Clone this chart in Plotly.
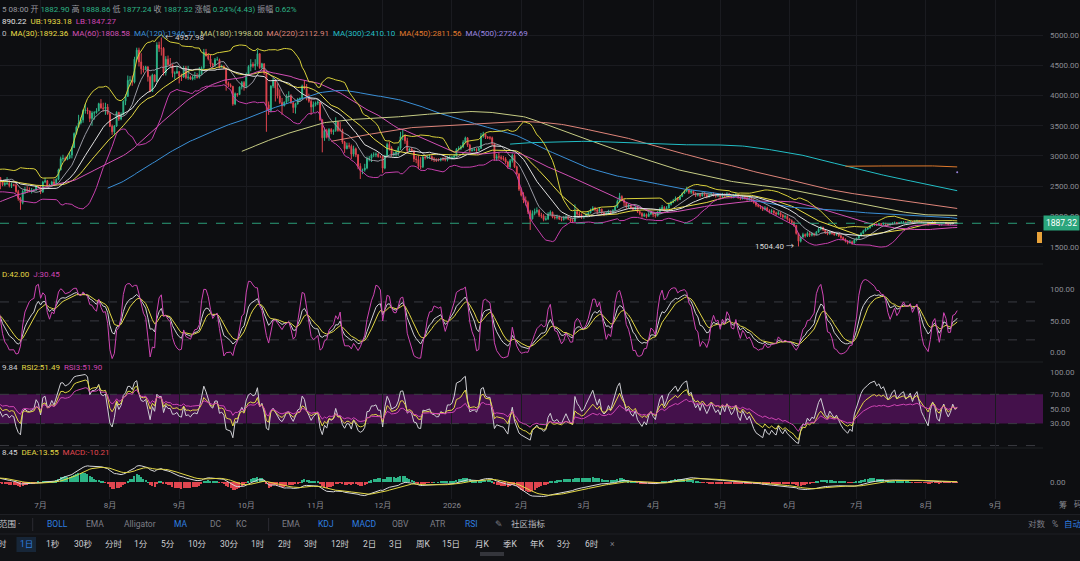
import numpy as np
import pandas as pd
import plotly.graph_objects as go

# ETH/USDT daily candles, 2025-04-03 .. 2026-08-15 (open = previous close)
first_open = 1795.0

close_2504 = [1817, 1816, 1806, 1580, 1553, 1472, 1668, 1522, 1566, 1644, 1596, 1623, 1588, 1577, 1583, 1588, 1613, 1586, 1577, 1756, 1796, 1769, 1786, 1819, 1793, 1800, 1798, 1793]
high_2504 = [1867, 1830, 1820, 1810, 1640, 1620, 1686, 1690, 1580, 1660, 1690, 1690, 1660, 1630, 1610, 1600, 1620, 1620, 1600, 1780, 1830, 1800, 1800, 1830, 1850, 1830, 1840, 1840]
low_2504 = [1770, 1760, 1770, 1560, 1385, 1450, 1410, 1500, 1510, 1550, 1560, 1590, 1580, 1540, 1560, 1575, 1580, 1575, 1540, 1570, 1750, 1740, 1750, 1780, 1780, 1760, 1780, 1760]

close_2505 = [1838, 1843, 1834, 1806, 1818, 1813, 1810, 2208, 2346, 2583, 2514, 2496, 2680, 2610, 2547, 2540, 2474, 2496, 2523, 2528, 2550, 2664, 2532, 2530, 2555, 2565, 2661, 2682, 2632, 2530, 2528]
high_2505 = [1870, 1870, 1850, 1850, 1840, 1830, 1830, 2215, 2380, 2590, 2620, 2610, 2730, 2720, 2620, 2630, 2560, 2510, 2580, 2590, 2600, 2720, 2740, 2580, 2570, 2620, 2720, 2710, 2790, 2660, 2550]
low_2505 = [1780, 1820, 1820, 1800, 1780, 1780, 1790, 1800, 2160, 2340, 2450, 2370, 2430, 2600, 2500, 2530, 2430, 2430, 2340, 2490, 2500, 2540, 2500, 2510, 2500, 2540, 2550, 2600, 2600, 2500, 2490]

close_2506 = [2540, 2607, 2594, 2608, 2420, 2480, 2525, 2510, 2680, 2815, 2770, 2645, 2580, 2525, 2545, 2547, 2510, 2525, 2515, 2410, 2295, 2228, 2415, 2445, 2420, 2415, 2425, 2435, 2505, 2485]
high_2506 = [2550, 2620, 2660, 2680, 2640, 2530, 2540, 2540, 2700, 2860, 2880, 2780, 2650, 2600, 2570, 2650, 2600, 2560, 2540, 2560, 2440, 2320, 2440, 2490, 2500, 2480, 2470, 2450, 2510, 2520]
low_2506 = [2470, 2500, 2580, 2590, 2390, 2400, 2470, 2480, 2500, 2650, 2730, 2620, 2450, 2500, 2500, 2520, 2480, 2470, 2500, 2390, 2260, 2110, 2200, 2370, 2390, 2400, 2380, 2410, 2420, 2470]

close_2507 = [2405, 2570, 2590, 2505, 2515, 2570, 2540, 2615, 2770, 2955, 2960, 2940, 2970, 3015, 3140, 3370, 3475, 3545, 3595, 3755, 3760, 3745, 3620, 3710, 3715, 3745, 3865, 3795, 3785, 3810, 3700]
high_2507 = [2520, 2590, 2640, 2600, 2540, 2590, 2620, 2630, 2790, 2990, 3020, 2990, 3000, 3060, 3160, 3390, 3500, 3680, 3640, 3770, 3860, 3800, 3750, 3740, 3740, 3790, 3880, 3940, 3880, 3880, 3860]
low_2507 = [2370, 2390, 2550, 2490, 2490, 2500, 2520, 2530, 2600, 2760, 2910, 2920, 2930, 2950, 2960, 3130, 3350, 3470, 3520, 3550, 3700, 3690, 3560, 3500, 3600, 3700, 3740, 3780, 3730, 3680, 3680]

close_2508 = [3490, 3400, 3495, 3720, 3610, 3680, 3905, 3985, 4250, 4255, 4220, 4600, 4750, 4555, 4440, 4425, 4475, 4310, 4070, 4340, 4230, 4835, 4780, 4780, 4375, 4600, 4510, 4510, 4365, 4370, 4395]
high_2508 = [3720, 3520, 3510, 3740, 3730, 3720, 3920, 4020, 4330, 4320, 4330, 4640, 4790, 4790, 4700, 4490, 4490, 4480, 4330, 4360, 4350, 4880, 4890, 4957.98, 4800, 4650, 4660, 4620, 4500, 4400, 4480]
low_2508 = [3480, 3350, 3360, 3480, 3580, 3590, 3680, 3840, 3980, 4160, 4160, 4200, 4580, 4480, 4350, 4380, 4420, 4230, 4060, 4060, 4220, 4220, 4720, 4660, 4330, 4330, 4490, 4470, 4300, 4270, 4360]

close_2509 = [4320, 4305, 4450, 4295, 4305, 4270, 4300, 4310, 4300, 4350, 4460, 4715, 4665, 4605, 4520, 4500, 4590, 4590, 4470, 4480, 4450, 4200, 4170, 4150, 3860, 4030, 4015, 4140, 4215, 4150]
high_2509 = [4400, 4360, 4490, 4490, 4490, 4330, 4330, 4390, 4370, 4470, 4480, 4770, 4770, 4690, 4680, 4540, 4620, 4640, 4610, 4510, 4500, 4460, 4230, 4200, 4160, 4050, 4040, 4150, 4240, 4240]
low_2509 = [4200, 4240, 4290, 4270, 4260, 4260, 4250, 4260, 4280, 4280, 4340, 4430, 4640, 4580, 4470, 4450, 4470, 4580, 4450, 4460, 4440, 4080, 4140, 4130, 3830, 3840, 3980, 4010, 4100, 4080]

close_2510 = [4350, 4480, 4515, 4490, 4515, 4690, 4460, 4525, 4370, 3845, 3750, 4155, 4245, 4125, 3990, 3885, 3830, 3890, 3980, 3985, 3880, 3800, 3860, 3935, 3950, 4155, 4120, 3980, 3905, 3810, 3850]
high_2510 = [4380, 4500, 4600, 4550, 4600, 4760, 4700, 4540, 4530, 4400, 3900, 4170, 4290, 4270, 4200, 4100, 3960, 3900, 4020, 4070, 4020, 3900, 3880, 3960, 3970, 4180, 4250, 4190, 4030, 3950, 3900]
low_2510 = [4120, 4330, 4400, 4460, 4420, 4480, 4440, 4440, 4340, 3400, 3680, 3720, 4120, 3900, 3950, 3860, 3680, 3820, 3860, 3900, 3860, 3710, 3700, 3850, 3900, 3930, 4100, 3920, 3880, 3680, 3720]

close_2511 = [3875, 3890, 3600, 3300, 3420, 3310, 3440, 3400, 3420, 3560, 3420, 3420, 3230, 3120, 3170, 3160, 3030, 3120, 3020, 2830, 2760, 2770, 2800, 2955, 2960, 3020, 3020, 3030, 2990, 2990]
high_2511 = [3900, 3920, 3900, 3600, 3470, 3450, 3460, 3460, 3440, 3640, 3580, 3560, 3450, 3250, 3220, 3220, 3190, 3170, 3140, 3030, 2880, 2790, 2870, 2990, 3000, 3040, 3060, 3060, 3050, 3010]
low_2511 = [3820, 3840, 3580, 3060, 3250, 3290, 3250, 3360, 3350, 3400, 3400, 3400, 3200, 3050, 3110, 3120, 2950, 2990, 2980, 2780, 2620, 2700, 2740, 2780, 2910, 2900, 2980, 2980, 2970, 2970]

close_2512 = [2800, 3000, 3190, 3135, 3025, 3040, 3060, 3130, 3320, 3330, 3250, 3090, 3115, 3080, 2950, 2940, 2830, 2820, 2980, 2975, 2985, 2990, 2950, 2945, 2930, 2930, 2950, 2945, 2940, 2970, 2970]
high_2512 = [3000, 3020, 3220, 3240, 3160, 3070, 3100, 3160, 3400, 3445, 3360, 3300, 3130, 3140, 3100, 3000, 3010, 2980, 3000, 3010, 3010, 3030, 3010, 2980, 2960, 2960, 2970, 2980, 2990, 3000, 3010]
low_2512 = [2720, 2780, 2990, 3090, 2990, 2990, 2990, 3000, 3100, 3260, 3200, 3050, 3070, 3070, 2900, 2880, 2780, 2780, 2800, 2940, 2950, 2950, 2920, 2900, 2900, 2910, 2910, 2920, 2910, 2910, 2950]

close_2601 = [2975, 3000, 3110, 3125, 3150, 3225, 3300, 3180, 3090, 3100, 3105, 3090, 3125, 3330, 3360, 3310, 3300, 3300, 3200, 2960, 2990, 2980, 2960, 2950, 2900, 2820, 2920, 3010, 2820, 2700, 2450]
high_2601 = [3000, 3030, 3130, 3160, 3180, 3260, 3320, 3310, 3200, 3130, 3130, 3130, 3150, 3380, 3400, 3370, 3330, 3330, 3320, 3220, 3030, 3050, 3010, 3000, 2980, 2920, 2950, 3040, 3030, 2840, 2720]
low_2601 = [2940, 2960, 2990, 3090, 3100, 3130, 3210, 3150, 3060, 3070, 3080, 3070, 3080, 3120, 3300, 3280, 3280, 3270, 3180, 2920, 2920, 2940, 2930, 2920, 2870, 2790, 2800, 2890, 2800, 2680, 2420]

close_2602 = [2350, 2270, 2230, 2080, 1960, 2050, 2080, 2100, 2020, 2010, 1950, 1960, 2040, 2070, 1990, 1980, 1990, 1960, 1950, 1970, 1990, 1960, 1930, 1920, 2080, 2040, 2020, 1990]
high_2602 = [2480, 2400, 2330, 2260, 2110, 2100, 2130, 2150, 2120, 2060, 2040, 2010, 2070, 2100, 2080, 2020, 2030, 2020, 1990, 2010, 2020, 2010, 1980, 1970, 2200, 2120, 2080, 2050]
low_2602 = [2330, 2220, 2180, 2040, 1777, 1950, 2020, 2050, 1990, 1970, 1920, 1930, 1940, 2020, 1970, 1950, 1950, 1940, 1920, 1930, 1950, 1940, 1900, 1890, 1910, 2010, 1990, 1960]

close_2603 = [2000, 2030, 2060, 2100, 2140, 2110, 2080, 2120, 2060, 2040, 2050, 2080, 2060, 2100, 2160, 2250, 2330, 2270, 2230, 2160, 2180, 2140, 2120, 2150, 2080, 2050, 2010, 2030, 2000, 2040, 2060]
high_2603 = [2020, 2060, 2090, 2130, 2170, 2160, 2130, 2150, 2130, 2080, 2080, 2110, 2100, 2120, 2180, 2280, 2390, 2350, 2290, 2240, 2210, 2200, 2160, 2180, 2160, 2090, 2070, 2060, 2050, 2070, 2090]
low_2603 = [1960, 1990, 2020, 2050, 2090, 2080, 2040, 2070, 2040, 2010, 2020, 2040, 2030, 2050, 2090, 2140, 2230, 2250, 2170, 2130, 2140, 2120, 2090, 2100, 2060, 2020, 1980, 1990, 1970, 1990, 2020]

close_2604 = [2030, 2010, 2060, 2120, 2150, 2100, 2140, 2200, 2230, 2260, 2300, 2280, 2330, 2380, 2420, 2450, 2400, 2420, 2380, 2350, 2370, 2340, 2380, 2360, 2330, 2350, 2380, 2360, 2340, 2350]
high_2604 = [2080, 2060, 2090, 2150, 2190, 2170, 2170, 2230, 2260, 2290, 2330, 2320, 2350, 2400, 2440, 2490, 2460, 2440, 2430, 2400, 2390, 2380, 2400, 2400, 2370, 2380, 2400, 2400, 2380, 2380]
low_2604 = [1990, 1980, 2000, 2040, 2100, 2080, 2090, 2130, 2180, 2220, 2250, 2250, 2270, 2320, 2370, 2400, 2370, 2370, 2350, 2320, 2330, 2310, 2330, 2330, 2300, 2310, 2340, 2330, 2310, 2320]

close_2605 = [2330, 2360, 2340, 2370, 2350, 2330, 2340, 2360, 2320, 2300, 2330, 2310, 2290, 2300, 2270, 2230, 2190, 2170, 2150, 2120, 2140, 2100, 2080, 2090, 2060, 2040, 2060, 2020, 1990, 2000, 1960]
high_2605 = [2380, 2390, 2380, 2400, 2390, 2360, 2370, 2390, 2370, 2330, 2350, 2350, 2320, 2330, 2310, 2290, 2240, 2210, 2190, 2170, 2170, 2160, 2120, 2120, 2110, 2080, 2090, 2080, 2040, 2030, 2020]
low_2605 = [2300, 2310, 2310, 2320, 2320, 2300, 2300, 2320, 2290, 2270, 2280, 2280, 2260, 2260, 2240, 2210, 2160, 2150, 2120, 2090, 2100, 2080, 2050, 2050, 2030, 2010, 2020, 1990, 1960, 1960, 1930]

close_2606 = [1930, 1900, 1850, 1720, 1590, 1660, 1700, 1680, 1720, 1690, 1710, 1700, 1740, 1790, 1820, 1780, 1730, 1710, 1740, 1720, 1700, 1710, 1680, 1650, 1620, 1590, 1570, 1580, 1560, 1610]
high_2606 = [1970, 1950, 1920, 1860, 1730, 1680, 1730, 1720, 1750, 1740, 1740, 1730, 1760, 1820, 1840, 1830, 1790, 1760, 1760, 1760, 1740, 1730, 1720, 1700, 1670, 1640, 1610, 1610, 1600, 1630]
low_2606 = [1890, 1870, 1830, 1700, 1504.40, 1570, 1640, 1650, 1660, 1660, 1670, 1670, 1690, 1730, 1770, 1760, 1710, 1690, 1700, 1700, 1680, 1680, 1660, 1630, 1600, 1570, 1540, 1550, 1530, 1550]

close_2607 = [1640, 1680, 1720, 1760, 1790, 1810, 1840, 1860, 1870, 1860, 1880, 1870, 1885, 1875, 1860, 1870, 1890, 1900, 1885, 1895, 1905, 1910, 1900, 1905, 1915, 1905, 1920, 1930, 1915, 1900, 1890]
high_2607 = [1650, 1700, 1740, 1780, 1810, 1830, 1860, 1880, 1890, 1885, 1895, 1890, 1900, 1895, 1880, 1885, 1905, 1915, 1905, 1910, 1920, 1925, 1915, 1920, 1930, 1925, 1935, 1945, 1935, 1920, 1905]
low_2607 = [1590, 1630, 1670, 1710, 1750, 1780, 1800, 1830, 1845, 1845, 1855, 1855, 1860, 1860, 1845, 1850, 1860, 1875, 1870, 1875, 1885, 1890, 1885, 1890, 1895, 1890, 1900, 1910, 1900, 1885, 1875]

close_2608 = [1880, 1865, 1890, 1910, 1900, 1870, 1860, 1885, 1900, 1880, 1865, 1875, 1895, 1882.90, 1887.32]
high_2608 = [1900, 1890, 1900, 1920, 1915, 1905, 1880, 1895, 1910, 1905, 1885, 1885, 1905, 1900, 1888.86]
low_2608 = [1860, 1850, 1860, 1885, 1890, 1860, 1850, 1855, 1880, 1870, 1855, 1860, 1870, 1875, 1877.24]

month_ticks = ["2025-07-01", "2025-08-01", "2025-09-01", "2025-10-01", "2025-11-01", "2025-12-01",
               "2026-01-01", "2026-02-01", "2026-03-01", "2026-04-01", "2026-05-01", "2026-06-01",
               "2026-07-01", "2026-08-01", "2026-09-01"]
month_labels = ["7月", "8月", "9月", "10月", "11月", "12月", "2026", "2月", "3月", "4月", "5月",
                "6月", "7月", "8月", "9月"]

months = ["2504", "2505", "2506", "2507", "2508", "2509", "2510", "2511", "2512",
          "2601", "2602", "2603", "2604", "2605", "2606", "2607", "2608"]
close = np.array(sum([globals()["close_" + m] for m in months], []), dtype=float)
high = np.array(sum([globals()["high_" + m] for m in months], []), dtype=float)
low = np.array(sum([globals()["low_" + m] for m in months], []), dtype=float)
dates = pd.date_range("2025-04-03", periods=len(close), freq="D")

opn = np.r_[first_open, close[:-1]]
high = np.maximum(high, np.maximum(opn, close))
low = np.minimum(low, np.minimum(opn, close))

# ---- indicators ----
c = pd.Series(close, index=dates)
h = pd.Series(high, index=dates)
l = pd.Series(low, index=dates)

mid = c.rolling(20).mean()
sd = c.rolling(20).std(ddof=0)
ub, lb = mid + 2 * sd, mid - 2 * sd

llv = l.rolling(9, min_periods=1).min()
hhv = h.rolling(9, min_periods=1).max()
rsv = ((c - llv) / (hhv - llv) * 100).fillna(50).values
k_vals, d_vals = [], []
kk, dd = 50.0, 50.0
for r in rsv:
    kk = kk * 2 / 3 + r / 3
    dd = dd * 2 / 3 + kk / 3
    k_vals.append(kk)
    d_vals.append(dd)
kdj_k = np.array(k_vals)
kdj_d = np.array(d_vals)
kdj_j = 3 * kdj_k - 2 * kdj_d


def rsi(n):
    diff = c.diff().fillna(0)
    up = diff.clip(lower=0).ewm(alpha=1 / n, adjust=False).mean()
    dn = (-diff.clip(upper=0)).ewm(alpha=1 / n, adjust=False).mean()
    return up / (up + dn) * 100


dif = c.ewm(span=12, adjust=False).mean() - c.ewm(span=26, adjust=False).mean()
dea = dif.ewm(span=9, adjust=False).mean()
hist = 2 * (dif - dea)

# ---- styling ----
BG = "#0d0e11"
GRID = "#1a1b20"
TXT = "#8a8b93"
UP = "#2db487"
DN = "#e0454f"
WHITE = "#e2e2e2"
YEL = "#e3d845"
MAG = "#d045b4"
BLUE_UI = "#2f7fe0"
FONT = "Roboto, 'Noto Sans CJK SC', sans-serif"

PW, PH = 1043, 499


def fx(px):
    return px / PW


def fy(py):
    return (PH - py) / PH


X0 = pd.Timestamp("2025-07-01") - pd.Timedelta(days=40.6 / 2.2356)
X1 = pd.Timestamp("2025-07-01") + pd.Timedelta(days=(PW - 40.6) / 2.2356)

fig = go.Figure()

fig.add_trace(go.Candlestick(
    x=dates, open=opn, high=high, low=low, close=close,
    increasing=dict(line=dict(color=UP, width=1), fillcolor=UP),
    decreasing=dict(line=dict(color=DN, width=1), fillcolor=DN),
    whiskerwidth=0, xaxis="x", yaxis="y"))

ma_styles = [(10, "#9a9aa4"), (30, "#e8dc45"), (60, "#d24fb4"), (120, "#3a8fd6"),
             (180, "#c6cc84"), (220, "#de8479"), (300, "#22bec6"), (450, "#e07a2c"),
             (500, "#9c86e0")]
for n, col in ma_styles:
    fig.add_trace(go.Scatter(x=dates, y=c.rolling(n).mean(), mode="lines+markers" if n == 500 else "lines",
                             marker=dict(size=2, color=col),
                             line=dict(color=col, width=1), xaxis="x", yaxis="y"))

for ser, col in [(ub, "#d8d03a"), (lb, "#c63fac"), (mid, WHITE)]:
    fig.add_trace(go.Scatter(x=dates, y=ser, mode="lines", line=dict(color=col, width=1),
                             xaxis="x", yaxis="y"))

for ser, col in [(kdj_k, "#cfcfd4"), (kdj_d, YEL), (kdj_j, MAG)]:
    fig.add_trace(go.Scatter(x=dates, y=ser, mode="lines", line=dict(color=col, width=1),
                             xaxis="x", yaxis="y2"))

for n, col in [(6, "#cfcfd4"), (12, YEL), (24, MAG)]:
    fig.add_trace(go.Scatter(x=dates, y=rsi(n), mode="lines", line=dict(color=col, width=1),
                             xaxis="x", yaxis="y3"))

fig.add_trace(go.Bar(x=dates, y=hist, width=0.55 * 86400000,
                     marker=dict(color=np.where(hist >= 0, UP, DN), line=dict(width=0)),
                     xaxis="x", yaxis="y4"))
for ser, col in [(dif, "#d8d8dc"), (dea, YEL)]:
    fig.add_trace(go.Scatter(x=dates, y=ser, mode="lines", line=dict(color=col, width=1),
                             xaxis="x", yaxis="y4"))

# ---- shapes ----
shapes = []
for lvl in (20, 50, 80):
    shapes.append(dict(type="line", xref="paper", x0=0, x1=1, yref="y2", y0=lvl, y1=lvl,
                       line=dict(color="#3a3b42", width=1, dash="dash"), layer="below"))
shapes.append(dict(type="rect", xref="paper", x0=0, x1=1, yref="y3", y0=30, y1=70,
                   fillcolor="#44114b", line=dict(width=0), layer="below"))
for lvl in (70, 30, 0):
    shapes.append(dict(type="line", xref="paper", x0=0, x1=1, yref="y3", y0=lvl, y1=lvl,
                       line=dict(color="#3a3b42", width=1, dash="dash"), layer="below"))
for yy in (264, 362, 448):
    shapes.append(dict(type="line", xref="paper", x0=0, x1=1, yref="paper", y0=fy(yy), y1=fy(yy),
                       line=dict(color="#1f2025", width=1), layer="below"))
shapes.append(dict(type="line", xref="paper", x0=0, x1=1, yref="y", y0=1887.32, y1=1887.32,
                   line=dict(color="#2a9d78", width=1, dash="dash")))
shapes.append(dict(type="rect", xref="paper", x0=fx(1037), x1=fx(1042), yref="paper",
                   y0=fy(243), y1=fy(232), fillcolor="#e8a23a", line=dict(width=0)))
# toolbar
shapes.append(dict(type="rect", xref="paper", x0=0, x1=fx(1080), yref="paper", y0=fy(561), y1=fy(514.5),
                   fillcolor="#111215", line=dict(width=0)))
for yy in (514.5, 534):
    shapes.append(dict(type="line", xref="paper", x0=0, x1=fx(1080), yref="paper", y0=fy(yy), y1=fy(yy),
                       line=dict(color="#1e1f24", width=1)))
for xx in (32.7, 268.6):
    shapes.append(dict(type="line", xref="paper", x0=fx(xx), x1=fx(xx), yref="paper", y0=fy(518), y1=fy(531),
                       line=dict(color="#2a2b31", width=1)))
shapes.append(dict(type="rect", xref="paper", x0=fx(16.5), x1=fx(36), yref="paper", y0=fy(552), y1=fy(537),
                   fillcolor="#172638", line=dict(width=0)))
shapes.append(dict(type="rect", xref="paper", x0=fx(480), x1=fx(504), yref="paper", y0=fy(556), y1=fy(552),
                   fillcolor="#34353b", line=dict(width=0)))

# ---- annotations ----
ann = []


def label(x, y, text, color=TXT, size=8, anchor="left"):
    ann.append(dict(x=fx(x), y=fy(y), xref="paper", yref="paper", text=text, showarrow=False,
                    xanchor=anchor, yanchor="middle", font=dict(color=color, size=size)))


def sp(text, color):
    return f"<span style='color:{color}'>{text}</span>"


G = "#2db487"
S = "\u00a0"
label(0, 8.6, "5 08:00 开 " + sp("1882.90", G) + " 高 " + sp("1888.86", G) + " 低 " + sp("1877.24", G)
      + " 收 " + sp("1887.32", G) + " 涨幅 " + sp("0.24%(4.43)", G) + " 振幅 " + sp("0.62%", G), "#9a9aa0")
label(0, 21.3, sp("890.22", WHITE) + S * 2 + sp("UB:1933.18", YEL) + S * 2 + sp("LB:1847.27", MAG))
ma_text = [("0", "#bdbdc2"), ("MA(30):1892.36", "#e8dc45"), ("MA(60):1808.58", "#d24fb4"),
           ("MA(120):1946.71", "#3a8fd6"), ("MA(180):1998.00", "#c6cc84"), ("MA(220):2112.91", "#de8479"),
           ("MA(300):2410.10", "#22bec6"), ("MA(450):2811.56", "#e07a2c"), ("MA(500):2726.69", "#9c86e0")]
label(0, 33.7, (S * 2).join(sp(t, col) for t, col in ma_text))
label(0, 274.5, sp("D:42.00", YEL) + S * 2 + sp("J:30.45", MAG))
label(0, 367, sp("9.84", "#cfcfd4") + S * 2 + sp("RSI2:51.49", YEL) + S * 2 + sp("RSI3:51.90", MAG))
label(0, 452.8, sp("8.45", "#d8d8dc") + S * 2 + sp("DEA:13.55", YEL) + S * 2 + sp("MACD:-10.21", DN))

vis = dates >= X0
i_hi = int(np.argmax(np.where(vis, high, -1)))
i_lo = int(np.argmin(np.where(vis, low, 1e9)))
ann.append(dict(x=dates[i_hi], y=high[i_hi], xref="x", yref="y", text="← 4957.98", showarrow=False,
                xanchor="left", yanchor="middle", xshift=2, font=dict(color="#cfcfcf", size=8)))
ann.append(dict(x=dates[i_lo], y=low[i_lo], xref="x", yref="y", text="1504.40 →", showarrow=False,
                xanchor="right", yanchor="middle", xshift=-2, font=dict(color="#d8d8d8", size=8)))
ann.append(dict(x=fx(1080), y=1887.32, xref="paper", yref="y", text="1887.32", showarrow=False,
                xanchor="right", yanchor="middle", bgcolor="#2aa57c", borderpad=2,
                font=dict(color="#ffffff", size=8.5)))

label(1063, 504.5, "筹", TXT, 8, "center")
label(1078, 504.5, "码", TXT, 8, "center")

GR = "#7d7e86"
label(-3, 524.4, "范围 ·", "#c8c8cc", 8.5)
row1 = [("BOLL", 57, BLUE_UI), ("EMA", 95, GR), ("Alligator", 139.5, GR), ("MA", 180, BLUE_UI),
        ("DC", 215.8, GR), ("KC", 241.7, GR), ("EMA", 290.5, GR), ("KDJ", 325.6, BLUE_UI),
        ("MACD", 364.2, BLUE_UI), ("OBV", 400.4, GR), ("ATR", 437.6, GR), ("RSI", 471, BLUE_UI),
        ("✎", 499, GR), ("社区指标", 528, "#b8b8be"), ("对数", 1037, GR), ("%", 1054.5, GR),
        ("自动", 1073, BLUE_UI)]
for t, xx, col in row1:
    label(xx, 524.4, t, col, 8.5, "center")
row2 = [("时", 2.5), ("1日", 26), ("1秒", 53.4), ("30秒", 83), ("分时", 113.6), ("1分", 141.4),
        ("5分", 168), ("10分", 197.6), ("30分", 229), ("1时", 257.9), ("2时", 284.7), ("3时", 310.8),
        ("12时", 340.4), ("2日", 369.3), ("3日", 395.6), ("周K", 423.2), ("15日", 451), ("月K", 482),
        ("季K", 510), ("年K", 537), ("3分", 564), ("6时", 591.7), ("×", 612.4)]
for t, xx in row2:
    label(xx, 544.4, t, BLUE_UI if t == "1日" else ("#7d7e86" if t == "×" else "#cfcfd4"), 8.5, "center")

yax = dict(side="right", anchor="x", zeroline=False, showline=False, ticks="",
           tickfont=dict(color=TXT, size=8), ticklabelstandoff=6, tickformat=".2f", fixedrange=True)

fig.update_layout(
    width=1080, height=561, margin=dict(l=0, r=37, t=0, b=62),
    paper_bgcolor=BG, plot_bgcolor=BG, showlegend=False, hovermode=False,
    font=dict(family=FONT, size=8, color=TXT),
    shapes=shapes, annotations=ann, bargap=0, boxgap=0.45,
    xaxis=dict(type="date", range=[X0, X1], anchor="y4", rangeslider=dict(visible=False),
               showgrid=True, gridcolor=GRID, gridwidth=1, zeroline=False, showline=False, ticks="",
               tickvals=month_ticks, ticktext=month_labels, tickfont=dict(color=TXT, size=8)),
    yaxis=dict(yax, domain=[fy(264), 1], range=[1213.9, 5578.7],
               tickvals=[1500, 2000, 2500, 3000, 3500, 4000, 4500, 5000],
               showgrid=True, gridcolor=GRID),
    yaxis2=dict(yax, domain=[fy(362), fy(264)], range=[-15, 140], tickvals=[0, 50, 100], showgrid=False),
    yaxis3=dict(yax, domain=[fy(448), fy(362)], range=[-3.3, 114.1], tickvals=[30, 50, 70, 100],
                showgrid=False),
    yaxis4=dict(yax, domain=[0, fy(448)], range=[-326, 658], tickvals=[0], showgrid=False),
)

fig.write_html("out.html", config={"displayModeBar": False},
               post_script="document.body.style.margin='0';document.body.style.background='#0d0e11';")
